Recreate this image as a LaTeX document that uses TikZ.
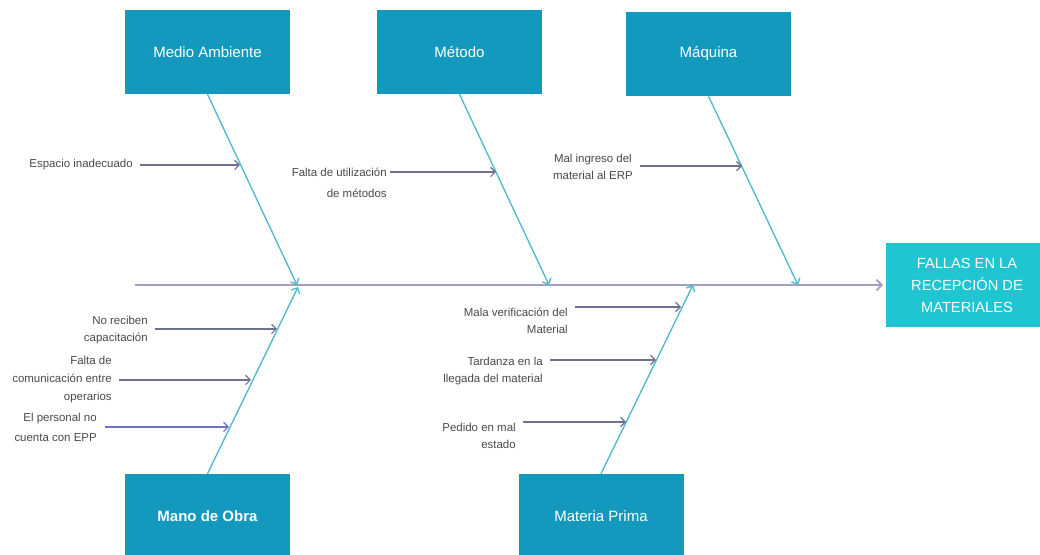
\documentclass[tikz,border=0pt]{standalone}
\usepackage{fontspec}
\setmainfont{Liberation Sans}
\usetikzlibrary{arrows.meta}
\definecolor{boxblue}{HTML}{1399BE}
\definecolor{headcyan}{HTML}{1FC6D1}
\definecolor{bonecol}{HTML}{4FB9CD}
\definecolor{spinecol}{HTML}{A3A1C2}
\definecolor{causecol}{HTML}{6E7290}
\definecolor{causeblue}{HTML}{6D72C4}
\definecolor{txt}{HTML}{4A4A4A}
\begin{document}
\begin{tikzpicture}[x=0.75pt,y=-0.75pt,
  catbox/.style={fill=boxblue,draw=none,inner sep=0pt,minimum width=123.75pt,
    minimum height=63pt,text=white,font=\fontsize{11.25}{13}\selectfont},
  headbox/.style={fill=headcyan,draw=none,inner sep=0pt,minimum width=121.5pt,
    minimum height=63pt,text=white,align=center,font=\fontsize{11}{16.5}\selectfont},
  causetext/.style={text=txt,inner sep=0pt,font=\fontsize{8.6}{12.75}\selectfont},
  bone/.style={draw=bonecol,line width=1pt,-{Straight Barb[length=3.5pt,width=7pt]}},
  spine/.style={draw=spinecol,line width=1.3pt,-{Straight Barb[length=4pt,width=8pt]}},
  cause/.style={draw=causecol,line width=0.9pt,-{Straight Barb[length=3.5pt,width=7pt]}}]
\useasboundingbox (0,0) rectangle (1040,555);
\clip (0,0) rectangle (1040,555);
\fill[white] (0,0) rectangle (1040,555);

% category boxes
\node[catbox] (amb) at (207.5,52) {Medio Ambiente};
\node[catbox] (met) at (459.5,52) {Método};
\node[catbox] (maq) at (708.5,54) {Máquina};
\node[catbox,font=\fontsize{11.25}{13}\selectfont\bfseries] (mo) at (207.5,516) {Mano de Obra};
\node[catbox] (mp) at (601,516) {Materia Prima};

% effect box (runs past the right edge)
\node[headbox] (head) at (967,285) {FALLAS EN LA\\RECEPCIÓN DE\\MATERIALES};

% spine and bone end points
\coordinate (tail) at (135,285);
\coordinate (pamb) at (297,285);
\coordinate (pmet) at (549,285);
\coordinate (pmaq) at (798,285);
\coordinate (pmo) at (298,287);
\coordinate (pmp) at (693,285);

\draw[spine] (tail) -- ([xshift=-2pt]head.west);
\draw[bone] (amb.south) -- (pamb);
\draw[bone] (met.south) -- (pmet);
\draw[bone] (maq.south) -- (pmaq);
\draw[bone] (mo.north) -- (pmo);
\draw[bone] (mp.north) -- (pmp);

% causes
\node[causetext,anchor=east] (c1) at (133,165) {Espacio inadecuado};
\node[causetext,anchor=east,align=right,font=\fontsize{8.6}{15.75}\selectfont] (c2) at (387,182.5) {Falta de utilización\\de métodos};
\node[causetext,anchor=east,align=center] (c3) at (633,166.5) {Mal ingreso del\\material al ERP};
\node[causetext,anchor=east,align=right] (c4) at (148,330.5) {No reciben\\capacitación};
\node[causetext,anchor=east,align=right,font=\fontsize{8.6}{13.5}\selectfont] (c5) at (112,380) {Falta de\\comunicación entre\\operarios};
\node[causetext,anchor=east,align=right,font=\fontsize{8.6}{15}\selectfont] (c6) at (97,427) {El personal no\\cuenta con EPP};
\node[causetext,anchor=east,align=right] (c7) at (568,320.5) {Mala verificación del\\Material};
\node[causetext,anchor=east,align=right] (c8) at (543,371.5) {Tardanza en la\\llegada del material};
\node[causetext,anchor=east,align=right] (c9) at (516,435.5) {Pedido en mal\\estado};

\coordinate (s1) at (140,165);  \coordinate (e1) at (240,165);
\coordinate (s2) at (390,172);  \coordinate (e2) at (496,172);
\coordinate (s3) at (640,166);  \coordinate (e3) at (742,166);
\coordinate (s4) at (155,329);  \coordinate (e4) at (277,329);
\coordinate (s5) at (119,380);  \coordinate (e5) at (251,380);
\coordinate (s6) at (105,427);  \coordinate (e6) at (229,427);
\coordinate (s7) at (575,307);  \coordinate (e7) at (681,307);
\coordinate (s8) at (550,360);  \coordinate (e8) at (656,360);
\coordinate (s9) at (523,422);  \coordinate (e9) at (626,422);

\draw[cause] (s1) -- (e1);
\draw[cause] (s2) -- (e2);
\draw[cause] (s3) -- (e3);
\draw[cause] (s4) -- (e4);
\draw[cause] (s5) -- (e5);
\draw[cause,draw=causeblue] (s6) -- (e6);
\draw[cause] (s7) -- (e7);
\draw[cause] (s8) -- (e8);
\draw[cause] (s9) -- (e9);
\end{tikzpicture}
\end{document}
